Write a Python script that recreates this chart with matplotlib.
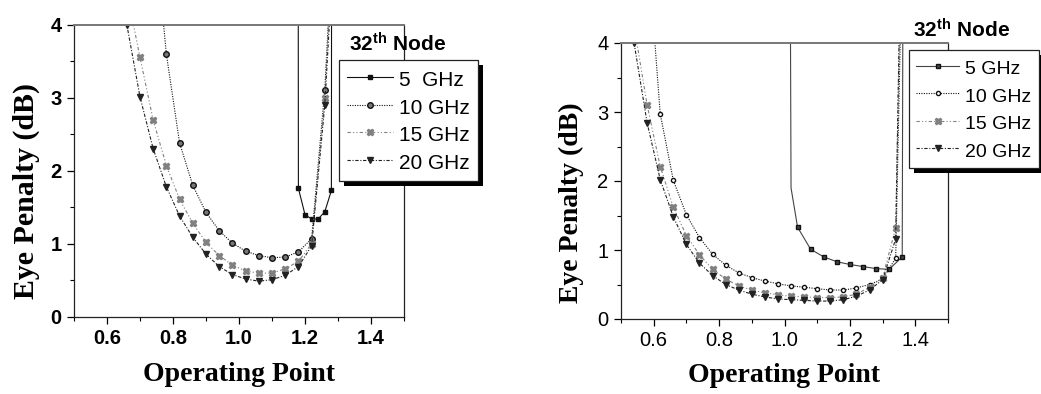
import numpy as np
import matplotlib
matplotlib.use("Agg")
import matplotlib.pyplot as plt
from matplotlib.patches import Rectangle
from matplotlib.ticker import MultipleLocator

plt.rcParams["font.family"] = ["Liberation Sans", "DejaVu Sans"]
plt.rcParams["mathtext.fontset"] = "custom"
plt.rcParams["mathtext.bf"] = "Liberation Sans:bold"
plt.rcParams["mathtext.rm"] = "Liberation Sans"

LABELS = ["5  GHz", "10 GHz", "15 GHz", "20 GHz"]
LABELS_R = ["5 GHz", "10 GHz", "15 GHz", "20 GHz"]

# ── left panel data ───────────────────────────────────────────────────────────
L5_x  = [1.1795, 1.18, 1.20, 1.22, 1.24, 1.26, 1.28, 1.2805]
L5_y  = [4.5, 1.76, 1.40, 1.34, 1.34, 1.44, 1.73, 4.5]
L10_x = [0.74, 0.78, 0.82, 0.86, 0.90, 0.94, 0.98, 1.02, 1.06, 1.10, 1.14, 1.18, 1.22, 1.26, 1.275]
L10_y = [5.5, 3.59, 2.38, 1.80, 1.43, 1.18, 1.01, 0.90, 0.84, 0.81, 0.82, 0.89, 1.07, 3.11, 4.4]
L15_x = [0.66, 0.70, 0.74, 0.78, 0.82, 0.86, 0.90, 0.94, 0.98, 1.02, 1.06, 1.10, 1.14, 1.18, 1.22, 1.26, 1.275]
L15_y = [4.45, 3.55, 2.69, 2.07, 1.61, 1.28, 1.02, 0.84, 0.71, 0.63, 0.60, 0.60, 0.66, 0.76, 1.00, 3.0, 4.4]
L20_x = [0.62, 0.66, 0.70, 0.74, 0.78, 0.82, 0.86, 0.90, 0.94, 0.98, 1.02, 1.06, 1.10, 1.14, 1.18, 1.22, 1.26, 1.28]
L20_y = [5.5, 4.0, 3.01, 2.30, 1.78, 1.38, 1.09, 0.86, 0.69, 0.58, 0.52, 0.49, 0.51, 0.57, 0.69, 0.97, 2.9, 4.5]

# ── right panel data ──────────────────────────────────────────────────────────
R5_x  = [1.018, 1.02, 1.04, 1.08, 1.12, 1.16, 1.20, 1.24, 1.28, 1.32, 1.36, 1.362]
R5_y  = [4.5, 1.90, 1.33, 1.01, 0.90, 0.83, 0.79, 0.76, 0.73, 0.72, 0.90, 4.5]
R10_x = [0.58, 0.62, 0.66, 0.70, 0.74, 0.78, 0.82, 0.86, 0.90, 0.94, 0.98, 1.02, 1.06, 1.10,
         1.14, 1.18, 1.22, 1.26, 1.30, 1.34, 1.356]
R10_y = [5.5, 2.97, 2.01, 1.51, 1.18, 0.94, 0.78, 0.67, 0.60, 0.55, 0.51, 0.48, 0.46, 0.44,
         0.42, 0.42, 0.45, 0.50, 0.58, 0.88, 4.5]
R15_x = [0.54, 0.58, 0.62, 0.66, 0.70, 0.74, 0.78, 0.82, 0.86, 0.90, 0.94, 0.98, 1.02, 1.06,
         1.10, 1.14, 1.18, 1.22, 1.26, 1.30, 1.34, 1.353]
R15_y = [4.25, 3.10, 2.21, 1.62, 1.21, 0.93, 0.72, 0.58, 0.48, 0.42, 0.38, 0.35, 0.33, 0.32,
         0.31, 0.31, 0.32, 0.36, 0.46, 0.60, 1.32, 4.5]
R20_x = [0.54, 0.58, 0.62, 0.66, 0.70, 0.74, 0.78, 0.82, 0.86, 0.90, 0.94, 0.98, 1.02, 1.06,
         1.10, 1.14, 1.18, 1.22, 1.26, 1.30, 1.34, 1.352]
R20_y = [4.0, 2.84, 2.02, 1.48, 1.08, 0.81, 0.63, 0.50, 0.42, 0.36, 0.32, 0.29, 0.28, 0.27,
         0.26, 0.26, 0.28, 0.33, 0.42, 0.57, 1.16, 4.5]

STYLES = [
    dict(color="#111111", ls="-",                      marker="s", ms=2.8),
    dict(color="#111111", ls=(0, (1, 1.2)),            marker="o", ms=4.0, mfc="#777777"),
    dict(color="#808080", ls=(0, (3, 2, 1, 2, 1, 2)),  marker="X", ms=4.5),
    dict(color="#222222", ls=(0, (3, 1.5, 1, 1.5)),    marker="v", ms=4.2),
]


def style_axes(ax, bold):
    ax.set_xlim(0.5, 1.5)
    ax.set_ylim(0, 4)
    ax.xaxis.set_major_locator(MultipleLocator(0.2))
    ax.xaxis.set_minor_locator(MultipleLocator(0.1))
    ax.yaxis.set_major_locator(MultipleLocator(1))
    ax.yaxis.set_minor_locator(MultipleLocator(0.5))
    ax.set_xticks([0.6, 0.8, 1.0, 1.2, 1.4])
    ax.set_xticklabels(["0.6", "0.8", "1.0", "1.2", "1.4"])
    ax.tick_params(which="major", direction="out", length=5, width=0.9, pad=4,
                   labelsize=14.5)
    ax.tick_params(which="minor", direction="out", length=3, width=0.8)
    for lab in ax.get_xticklabels() + ax.get_yticklabels():
        lab.set_fontweight("bold" if bold else "normal")
    for sp in ax.spines.values():
        sp.set_linewidth(0.9)
        sp.set_color("#222222")
    ax.spines["top"].set_color("#777777")
    ax.spines["top"].set_linewidth(1.4)
    ax.set_xlabel("Operating Point", family="Liberation Serif", fontweight="bold",
                  fontsize=20, va="top")


def add_legend(fig, ax, labels, x0, y0, size, spacing):
    leg = ax.legend(labels, loc="upper left", bbox_to_anchor=(x0, y0),
                    bbox_transform=fig.transFigure, borderaxespad=0, fontsize=size,
                    handlelength=2.2, handleheight=1.3, handletextpad=0.3,
                    labelspacing=spacing, borderpad=0.38, numpoints=1, fancybox=False,
                    framealpha=1, edgecolor="#222222")
    leg.get_frame().set_linewidth(0.9)
    leg.set_zorder(6)
    return leg


fig = plt.figure(figsize=(10.41, 3.94), dpi=100)
axL = fig.add_axes([74 / 1041, 1 - 317 / 394, 330 / 1041, 292.5 / 394])
axR = fig.add_axes([621 / 1041, 1 - 319 / 394, 327 / 1041, 276 / 394])

for (xs, ys), st in zip([(L5_x, L5_y), (L10_x, L10_y), (L15_x, L15_y), (L20_x, L20_y)], STYLES):
    axL.plot(xs, ys, lw=0.8, mec=st["color"], **st)
for (xs, ys), st in zip([(R5_x, R5_y), (R10_x, R10_y), (R15_x, R15_y), (R20_x, R20_y)], STYLES):
    st = dict(st)
    if st["marker"] == "o":
        st["ms"] = 3.0
        st["mfc"] = "white"
    kw = dict(markevery=[i for i in range(len(xs)) if i != 1]) if st["marker"] == "s" else {}
    axR.plot(xs, ys, lw=0.8, mec=st["color"], **st, **kw)
axR.lines[0].set_color("#444444")

style_axes(axL, bold=True)
style_axes(axR, bold=False)

axL.set_ylabel("Eye Penalty (dB)", family="Liberation Serif", fontweight="bold",
               fontsize=21.5, va="center")
axL.yaxis.set_label_coords(-0.145, 0.431)
axL.xaxis.set_label_coords(0.5, -0.155)
axR.set_ylabel("Eye Penalty (dB)", family="Liberation Serif", fontweight="bold",
               fontsize=20, va="center")
axR.yaxis.set_label_coords(-0.151, 0.422)
axR.xaxis.set_label_coords(0.5, -0.16)

legL = add_legend(fig, axL, LABELS, 339 / 1041, 1 - 60 / 394, 15, 0.23)
legR = add_legend(fig, axR, LABELS_R, 909 / 1041, 1 - 50 / 394, 14, 0.32)

fig.text(349 / 1041, 1 - 52 / 394, r"$\mathbf{32^{th}}$ Node", fontsize=15,
         fontweight="bold", va="baseline")
fig.text(913 / 1041, 1 - 38 / 394, r"$\mathbf{32^{th}}$ Node", fontsize=15,
         fontweight="bold", va="baseline")

# black drop shadows behind the legend boxes
fig.canvas.draw()
for ax, leg in [(axL, legL), (axR, legR)]:
    bb = leg.get_frame().get_window_extent()
    inv = fig.transFigure.inverted()
    (x0, y0), (x1, y1) = inv.transform([(bb.x0 + 5, bb.y0 - 5), (bb.x1 + 5, bb.y1 - 5)])
    ax.add_artist(Rectangle((x0, y0), x1 - x0, y1 - y0, transform=fig.transFigure,
                            facecolor="black", edgecolor="none", clip_on=False, zorder=5.5))

fig.savefig("out.png", dpi=100)
